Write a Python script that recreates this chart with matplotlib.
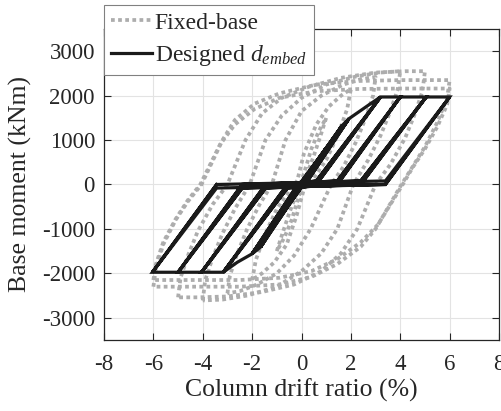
import matplotlib
matplotlib.use("Agg")
import matplotlib.pyplot as plt

plt.rcParams['font.family'] = ['Liberation Serif', 'DejaVu Serif']
plt.rcParams['mathtext.fontset'] = 'custom'
plt.rcParams['mathtext.rm'] = 'Liberation Serif'
plt.rcParams['mathtext.it'] = 'Liberation Serif:italic'
plt.rcParams['axes.unicode_minus'] = False

# Fixed-base loops (upper branch: -A -> +A, lower branch: +A -> -A)
up6_x = [-6.0, -5.9, -5.6, -5.1, -4.6, -4.05, -3.2, -2.7, -1.9, -0.9, 0.6, 2.3, 4.0, 6.0]
up6_y = [-2300, -1900, -1350, -800, -380, 0, 1000, 1450, 1820, 2050, 2250, 2330, 2350, 2350]
lo6_x = [6.0, 5.9, 5.5, 5.0, 4.5, 4.05, 3.0, 2.4, 1.45, 0.4, -0.9, -2.5, -4.0, -6.0]
lo6_y = [2350, 1950, 1400, 850, 400, 0, -1000, -1400, -1790, -2080, -2250, -2300, -2300, -2300]

up6b_x = [-6.0, -5.9, -5.6, -5.1, -4.6, -4.1, -3.3, -2.7, -1.9, -0.9, 0.6, 2.3, 4.0, 6.0]
up6b_y = [-2150, -1800, -1300, -780, -350, 0, 900, 1350, 1700, 1950, 2100, 2150, 2160, 2160]
lo6b_x = [6.0, 5.9, 5.5, 5.0, 4.5, 4.1, 3.1, 2.4, 1.45, 0.4, -0.9, -2.5, -4.0, -6.0]
lo6b_y = [2160, 1800, 1300, 800, 380, 0, -900, -1300, -1680, -1950, -2100, -2150, -2150, -2150]

up5_x = [-5.0, -4.9, -4.6, -4.2, -3.6, -3.0, -2.27, -1.6, -0.8, 0.3, 1.6, 3.0, 4.2, 5.0]
up5_y = [-2540, -2100, -1600, -1050, -450, 0, 1000, 1600, 1950, 2200, 2400, 2520, 2550, 2550]
lo5_x = [5.0, 4.9, 4.6, 4.2, 3.6, 3.0, 2.26, 1.6, 0.8, -0.3, -1.6, -3.0, -4.2, -5.0]
lo5_y = [2550, 2100, 1600, 1050, 450, 0, -1000, -1550, -1950, -2250, -2420, -2520, -2540, -2540]

up4_x = [-4.0, -3.9, -3.6, -3.2, -2.7, -2.1, -1.46, -0.8, 0.0, 1.0, 2.2, 3.2, 4.0]
up4_y = [-2610, -2150, -1650, -1100, -550, 0, 1000, 1550, 1950, 2250, 2430, 2520, 2550]
lo4_x = [4.0, 3.9, 3.6, 3.2, 2.7, 2.1, 1.45, 0.8, 0.0, -1.0, -2.2, -3.2, -4.0]
lo4_y = [2550, 2150, 1650, 1100, 550, 0, -1000, -1550, -1950, -2300, -2500, -2590, -2610]

up3_x = [-3.0, -2.9, -2.6, -2.2, -1.7, -1.2, -0.65, 0.0, 0.8, 1.7, 2.4, 3.0]
up3_y = [-2450, -2050, -1550, -1000, -450, 0, 1000, 1650, 2000, 2250, 2370, 2420]
lo3_x = [3.0, 2.9, 2.6, 2.2, 1.7, 1.2, 0.37, -0.3, -1.0, -1.8, -2.5, -3.0]
lo3_y = [2420, 2000, 1500, 950, 400, 0, -1000, -1600, -2000, -2250, -2400, -2450]

up2_x = [-2.0, -1.85, -1.5, -1.0, -0.5, -0.17, 0.1, 0.6, 1.1, 1.6, 2.0]
up2_y = [-2150, -1700, -1150, -550, -150, 90, 700, 1350, 1750, 2000, 2150]
lo2_x = [2.0, 1.85, 1.5, 1.0, 0.5, 0.1, -0.2, -0.6, -1.1, -1.6, -2.0]
lo2_y = [2150, 1700, 1150, 550, 150, -100, -700, -1350, -1750, -2000, -2150]

up1_x = [-1.0, -0.8, -0.5, -0.2, 0.1, 0.4, 0.7, 1.0]
up1_y = [-1500, -1150, -650, -200, 250, 800, 1200, 1500]
lo1_x = [1.0, 0.8, 0.5, 0.2, -0.1, -0.4, -0.7, -1.0]
lo1_y = [1500, 1150, 650, 200, -250, -800, -1200, -1500]

fixed_loops = [
    (up1_x, up1_y, lo1_x, lo1_y),
    (up2_x, up2_y, lo2_x, lo2_y),
    (up3_x, up3_y, lo3_x, lo3_y),
    (up4_x, up4_y, lo4_x, lo4_y),
    (up5_x, up5_y, lo5_x, lo5_y),
    (up6_x, up6_y, lo6_x, lo6_y),
    (up6b_x, up6b_y, lo6b_x, lo6b_y),
]

# Designed d_embed: peak drifts and moments, zero-moment drifts after unloading
pos_peak_x = [1.0, 1.65, 1.92, 3.2, 4.0, 5.05, 6.0]
pos_peak_y = [820, 1330, 1480, 1970, 1970, 1970, 1970]
pos_zero_x = [0.02, 0.05, 0.15, 0.6, 1.45, 2.4, 3.4]
neg_peak_x = [-1.0, -1.66, -2.0, -3.17, -4.05, -5.0, -6.04]
neg_peak_y = [-830, -1410, -1560, -1975, -1975, -1975, -1975]
neg_zero_x = [-0.02, -0.05, -0.15, -0.57, -1.45, -2.4, -3.44]
# envelope corners between small and large cycles
pos_corner = (2.8, 1820)
neg_corner = (-2.6, -1750)
slip_m = 80

dx, dy = [0.0], [0.0]
prev_pz, prev_nz = 0.0, 0.0
for i in range(len(pos_peak_x)):
    for c in range(2):
        # slip to the right, reload
        if c == 0:
            dx += [prev_pz]
            dy += [slip_m if i > 0 else 0]
            if i > 0:
                dx += [pos_peak_x[i - 1]]
                dy += [pos_peak_y[i - 1]]
            if i == 3:
                dx += [pos_corner[0]]
                dy += [pos_corner[1]]
        else:
            dx += [pos_zero_x[i]]
            dy += [slip_m]
        dx += [pos_peak_x[i], pos_zero_x[i]]
        dy += [pos_peak_y[i], 0]
        # slip to the left, reload negative
        if c == 0:
            dx += [prev_nz]
            dy += [-slip_m if i > 0 else 0]
            if i > 0:
                dx += [neg_peak_x[i - 1]]
                dy += [neg_peak_y[i - 1]]
            if i == 3:
                dx += [neg_corner[0]]
                dy += [neg_corner[1]]
        else:
            dx += [neg_zero_x[i]]
            dy += [-slip_m]
        dx += [neg_peak_x[i], neg_zero_x[i]]
        dy += [neg_peak_y[i], 0]
    prev_pz, prev_nz = pos_zero_x[i], neg_zero_x[i]

fig = plt.figure(figsize=(5.02, 4.11), dpi=100)
ax = fig.add_axes([104 / 502, 1 - 340 / 411, 395 / 502, 311 / 411])

for k, (ux, uy, lx, ly) in enumerate(fixed_loops):
    ax.plot(ux + lx[1:], uy + ly[1:], color='#adadad', lw=2.7,
            linestyle=(0, (1, 0.9)), label='Fixed-base' if k == 0 else None)

ax.plot(dx, dy, color='#1a1a1a', lw=2.3, solid_joinstyle='miter',
        label=r'Designed $d_{embed}$')

ax.set_xlim(-8, 8)
ax.set_ylim(-3500, 3500)
ax.set_xticks([-8, -6, -4, -2, 0, 2, 4, 6, 8])
ax.set_yticks([-3000, -2000, -1000, 0, 1000, 2000, 3000])
ax.grid(True, color='#e3e3e3', lw=0.8)
ax.set_axisbelow(True)
ax.tick_params(direction='in', top=True, right=True, length=5, width=0.8,
               labelsize=16.5, colors='#262626')
ax.tick_params(axis='x', pad=10)
ax.tick_params(axis='y', pad=6.5)
for s in ax.spines.values():
    s.set_color('#262626')
    s.set_linewidth(0.9)

ax.set_xlabel('Column drift ratio (%)', fontsize=18.5, color='#262626', labelpad=3)
ax.set_ylabel('Base moment (kNm)', fontsize=18.5, color='#262626', labelpad=7)

leg = fig.legend(loc='upper left', bbox_to_anchor=(104 / 502, 1 - 5 / 411),
                 fontsize=17, frameon=True, fancybox=False, framealpha=1,
                 edgecolor='#808080', borderaxespad=0, handlelength=1.75,
                 handletextpad=0.1, borderpad=0.3, labelspacing=0.4)
leg.get_frame().set_linewidth(0.8)
for t in leg.get_texts():
    t.set_color('#262626')

fig.savefig('out.png', dpi=100)
